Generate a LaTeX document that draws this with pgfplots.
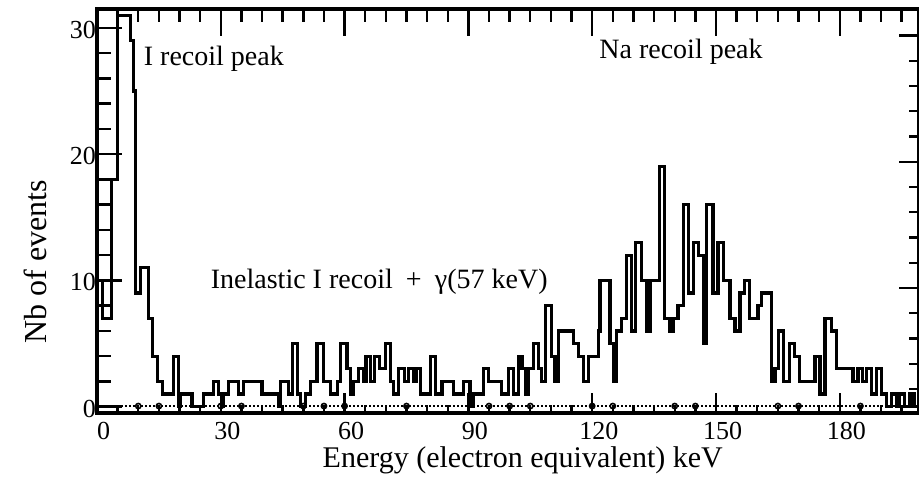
\documentclass[border=0pt]{standalone}
\usepackage{pgfplots}
\pgfplotsset{compat=1.18}
\usepackage{fontspec}
\setmainfont{Liberation Serif}
\begin{document}
\begin{tikzpicture}
\path[use as bounding box] (-48.5pt,-41.5pt) rectangle (411pt,206.5pt);
\pgfplotsset{base/.style={at={(0,0)}, anchor=south west, scale only axis,
  width=411pt, height=202pt, xmin=0, xmax=199.2, ymin=-0.5, ymax=31.5,
  clip=false, tick align=inside, axis line style={line width=1.6pt},
  every tick/.style={black, line width=1.2pt},
  /pgf/number format/assume math mode=true,
  ticklabel style={font=\fontsize{13}{15}\selectfont}}}
% bottom ticks + data
\begin{axis}[base, xtick={0,30,...,180}, minor xtick={5,10,...,195},
  xtick pos=bottom, ytick=\empty, major tick length=10pt, minor tick length=4pt,
  xticklabel style={xshift=3.3pt, yshift=-1pt}]
\addplot[const plot, line width=1.6pt, black, line join=miter] coordinates {
(0,10) (1.26,7) (3.6,18) (4.9,31) (8.1,29) (8.8,25) (9.3,9) (10.5,11)
(12.5,7) (13.4,4) (14.6,2) (15.8,1) (18.6,4) (19.8,0) (20.2,1) (23.0,0)
(25.9,1) (28.3,2) (29.5,1) (30.4,0) (30.7,1) (31.9,2) (34.3,1) (35.5,2)
(40.0,1) (44.0,0) (44.5,2) (46.5,1) (47.3,5) (48.5,1) (49.3,0) (50.5,1)
(51.7,2) (53.3,5) (54.9,2) (56.5,1) (58.2,2) (59.0,5) (60.6,3) (61.4,1)
(62.2,2) (63.4,3) (64.6,2) (65.2,4) (66.2,2) (67.2,4) (68.4,3) (69.9,5)
(71.1,2) (71.9,1) (73.1,3) (74.5,2) (75.5,3) (76.8,2) (77.4,3) (78.3,1)
(80.8,4) (82.0,1) (83.6,2) (86.4,1) (88.8,2) (90.4,0) (91.2,1) (93.7,3)
(94.9,2) (98.1,1) (99.7,3) (100.9,1) (102.1,4) (103.0,3) (103.8,1) (104.6,3)
(105.8,5) (107.0,3) (107.8,2) (108.6,8) (110.2,4) (111.0,2) (111.8,6) (115.5,5)
(116.7,4) (117.9,2) (119.1,4) (121.5,6) (121.9,10) (124.3,5) (125.1,2) (125.9,6)
(127.2,7) (128.4,12) (129.6,6) (130.4,13) (132.0,10) (133.2,6) (134.0,10) (136.4,19)
(137.6,7) (138.8,6) (139.6,7) (140.8,8) (142.1,16) (143.3,9) (144.5,13) (145.7,12)
(146.9,5) (147.7,16) (149.3,9) (150.5,13) (151.9,10) (153.4,7) (154.6,6) (155.8,9)
(157.0,10) (158.2,7) (160.2,8) (161.0,9) (163.5,2) (164.3,3) (165.1,6) (166.3,2)
(167.9,5) (169.1,4) (170.3,2) (174.0,4) (175.2,1) (176.4,7) (178.0,6) (179.2,3)
(183.2,2) (184.4,3) (185.6,2) (186.4,3) (187.7,1) (188.9,3) (190.1,1) (191.3,0)
(192.5,1) (193.7,0) (194.5,1) (195.7,0) (197.0,1) (198.0,0) (199.2,0)
};
\addplot[densely dotted, line width=1pt] coordinates {(0,0.05) (199.2,0.05)};
\addplot[only marks, mark=o, mark size=1.3pt, mark options={line width=0.8pt, fill=white}] coordinates {
(10,0.05) (15,0.05) (30,0.05) (35,0.05) (50,0.05) (55,0.05) (60,0.05) (75,0.05)
(95,0.05) (100,0.05) (105,0.05) (120,0.05) (125,0.05) (140,0.05) (145,0.05)
(165,0.05) (170,0.05) (185,0.05)
};
\node[anchor=base west, inner sep=0pt, font=\fontsize{14}{16}\selectfont] at (axis cs:11.26,27.06) {I recoil peak};
\node[anchor=base east, inner sep=0pt, font=\fontsize{14}{16}\selectfont] at (axis cs:161.4,27.6) {Na recoil peak};
\node[anchor=base west, inner sep=0pt, font=\fontsize{14}{16}\selectfont] at (axis cs:27.5,9.4) {Inelastic I recoil\hspace{0.22em} +\hspace{0.22em} γ(57 keV)};
\node[anchor=base west, inner sep=0pt, font=\fontsize{15}{18}\selectfont] at (axis cs:54.6,-4.83) {Energy (electron equivalent) keV};
\node[rotate=90, font=\fontsize{16}{19}\selectfont] at (axis cs:-14.9,11.47) {Nb of events};
\end{axis}
% left ticks
\begin{axis}[base, ytick={0,10,20,30}, minor ytick={2,4,...,30}, ytick pos=left,
  xtick=\empty, major tick length=12.5pt, minor tick length=7pt,
  yticklabel style={xshift=3pt, yshift=-1pt}]
\end{axis}
% top ticks
\begin{axis}[base, xtick={0,30,...,180}, minor xtick={5,10,...,195}, xtick pos=top,
  xticklabels={}, ytick=\empty, major tick length=13.5pt, minor tick length=6.5pt]
\end{axis}
% right ticks
\begin{axis}[base, ytick={9.4,19.4,29.4},
  minor ytick={1.4,3.4,5.4,7.4,11.4,13.4,15.4,17.4,21.4,23.4,25.4,27.4},
  ytick pos=right, yticklabels={}, xtick=\empty, major tick length=10pt, minor tick length=5pt]
\end{axis}
\end{tikzpicture}
\end{document}
